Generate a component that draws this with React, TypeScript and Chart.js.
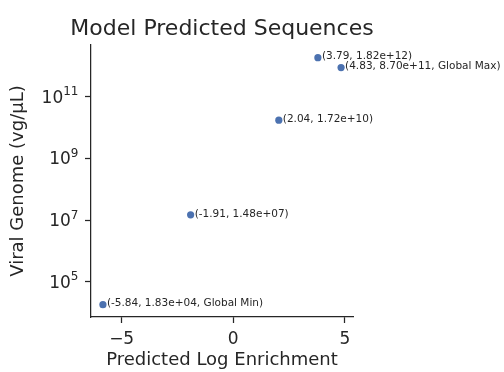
import React, { useEffect, useRef } from 'react';
import { Chart, registerables } from 'chart.js';

Chart.register(...registerables);

// ---- data ----
const xValues = [-5.84, -1.91, 2.04, 3.79, 4.83];
const yValues = [1.83e4, 1.48e7, 1.72e10, 1.82e12, 8.7e11];
const pointLabels = [
  '(-5.84, 1.83e+04, Global Min)',
  '(-1.91, 1.48e+07)',
  '(2.04, 1.72e+10)',
  '(3.79, 1.82e+12)',
  '(4.83, 8.70e+11, Global Max)',
];
const xTickValues = [-5, 0, 5];
const xTickLabels = ['\u22125', '0', '5'];
const yTickValues = [1e5, 1e7, 1e9, 1e11];
const yTickBase = ['10', '10', '10', '10'];
const yTickExponents = ['5', '7', '9', '11'];
const xMin = -6.3735;
const xMax = 5.3635;
const yMin = Math.pow(10, 3.862);
const yMax = Math.pow(10, 12.67);

const titleText = 'Model Predicted Sequences';
const xTitle = 'Predicted Log Enrichment';
const yTitle = 'Viral Genome (vg/\u03bcL)';

const FONT = '"DejaVu Sans", sans-serif';
const INK = '#262626';
const DOT = '#4c72b0';

const titlePlugin = {
  id: 'customTitle',
  afterDraw(chart: any) {
    const { ctx, chartArea } = chart;
    ctx.save();
    ctx.font = `22px ${FONT}`;
    ctx.fillStyle = INK;
    ctx.textAlign = 'center';
    ctx.textBaseline = 'alphabetic';
    ctx.fillText(titleText, (chartArea.left + chartArea.right) / 2, 35);
    ctx.restore();
  },
};

// y tick labels as 10 with a raised exponent (like mathtext)
const powerLabelPlugin = {
  id: 'powerLabels',
  afterDraw(chart: any) {
    const { ctx } = chart;
    const ys = chart.scales.y;
    const rightEdge = ys.right - 6 - 6.5;
    ctx.save();
    ctx.fillStyle = INK;
    ctx.textBaseline = 'alphabetic';
    ctx.textAlign = 'right';
    yTickValues.forEach((v, i) => {
      const py = ys.getPixelForValue(v);
      ctx.font = `12px ${FONT}`;
      const expW = ctx.measureText(yTickExponents[i]).width;
      ctx.fillText(yTickExponents[i], rightEdge, py - 1.5);
      ctx.font = `17px ${FONT}`;
      ctx.fillText(yTickBase[i], rightEdge - expW, py + 6);
    });
    ctx.restore();
  },
};

const annotationPlugin = {
  id: 'pointAnnotations',
  afterDatasetsDraw(chart: any) {
    const { ctx } = chart;
    const meta = chart.getDatasetMeta(0);
    ctx.save();
    ctx.font = `10.5px ${FONT}`;
    ctx.fillStyle = INK;
    ctx.textAlign = 'left';
    ctx.textBaseline = 'middle';
    meta.data.forEach((el: any, i: number) => {
      ctx.fillText(pointLabels[i], el.x + 4, el.y - 1);
    });
    ctx.restore();
  },
};

export default function App() {
  const ref = useRef<HTMLCanvasElement | null>(null);

  useEffect(() => {
    if (!ref.current) return;
    const chart = new Chart(ref.current, {
      type: 'scatter',
      data: {
        datasets: [
          {
            data: xValues.map((x, i) => ({ x, y: yValues[i] })),
            backgroundColor: DOT,
            borderWidth: 0,
            pointRadius: 3.6,
          },
        ],
      },
      options: {
        animation: false,
        responsive: false,
        devicePixelRatio: 1,
        layout: { padding: { top: 45, right: 151, bottom: 0, left: 0 } },
        plugins: {
          legend: { display: false },
          tooltip: { enabled: false },
          title: { display: false },
        },
        scales: {
          x: {
            type: 'linear',
            min: xMin,
            max: xMax,
            afterFit: (s: any) => {
              s.height = 55;
            },
            afterBuildTicks: (s: any) => {
              s.ticks = xTickValues.map((v) => ({ value: v }));
            },
            ticks: {
              callback: (v: any) => xTickLabels[xTickValues.indexOf(Number(v))],
              font: { family: FONT, size: 17 },
              color: INK,
              padding: 6,
              maxRotation: 0,
            },
            grid: {
              drawOnChartArea: false,
              drawTicks: true,
              tickLength: 6,
              tickColor: INK,
              tickWidth: 1.25,
            },
            border: { display: true, color: INK, width: 1.25 },
            title: {
              display: true,
              text: xTitle,
              font: { family: FONT, size: 18 },
              color: INK,
              padding: { top: 0, bottom: 0.5 },
            },
          },
          y: {
            type: 'logarithmic',
            min: yMin,
            max: yMax,
            afterFit: (s: any) => {
              s.width = 91;
            },
            afterBuildTicks: (s: any) => {
              s.ticks = yTickValues.map((v) => ({ value: v }));
            },
            ticks: {
              display: false,
            },
            grid: {
              drawOnChartArea: false,
              drawTicks: true,
              tickLength: 6,
              tickColor: INK,
              tickWidth: 1.25,
            },
            border: { display: true, color: INK, width: 1.25 },
            title: {
              display: true,
              text: yTitle,
              font: { family: FONT, size: 18 },
              color: INK,
              padding: { top: 7.5, bottom: 0 },
            },
          },
        },
      } as any,
      plugins: [titlePlugin, powerLabelPlugin, annotationPlugin],
    });
    return () => chart.destroy();
  }, []);

  return (
    <div style={{ position: 'fixed', left: 0, top: 0, width: 504, height: 372, background: '#ffffff' }}>
      <canvas ref={ref} width={504} height={372} style={{ display: 'block', width: 504, height: 372 }} />
    </div>
  );
}
